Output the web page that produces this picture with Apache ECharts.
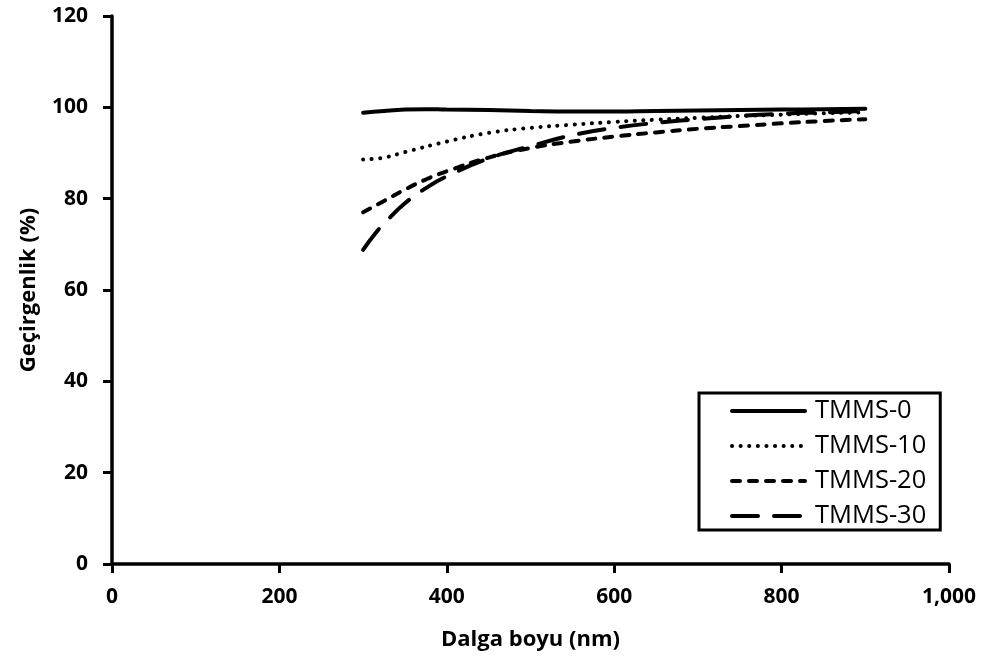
<!DOCTYPE html>
<html><head><meta charset="utf-8">
<script src="https://cdn.jsdelivr.net/npm/echarts@6/dist/echarts.min.js"></script>
<style>html,body{margin:0;padding:0;background:#fff}#c{width:983px;height:659px}</style>
</head><body><div id="c"></div>
<script>
const seriesNames = ['TMMS-0', 'TMMS-10', 'TMMS-20', 'TMMS-30'];
const tmms0 = [[300,98.8],[325,99.2],[350,99.5],[375,99.6],[400,99.5],[450,99.4],[500,99.2],[550,99.1],[600,99.1],[650,99.2],[700,99.3],[750,99.4],[800,99.5],[850,99.6],[900,99.7]];
const tmms10 = [[300,88.6],[325,89.0],[350,90.2],[400,92.5],[450,94.4],[500,95.5],[550,96.2],[600,96.8],[650,97.3],[700,97.7],[750,98.1],[800,98.4],[850,98.7],[900,98.9]];
const tmms20 = [[300,77.0],[325,79.5],[350,82.0],[375,84.2],[400,86.0],[450,89.0],[500,91.1],[550,92.5],[600,93.6],[650,94.5],[700,95.3],[750,95.9],[800,96.5],[850,97.0],[900,97.4]];
const tmms30 = [[300,68.8],[315,72.5],[330,75.5],[350,79.0],[375,82.3],[400,84.9],[450,88.8],[500,91.5],[550,93.9],[600,95.5],[650,96.6],[700,97.4],[750,98.1],[800,98.6],[850,98.9],[900,99.2]];
const dataSets = [tmms0, tmms10, tmms20, tmms30];
const dashTypes = ['solid', [0.1, 8.5], [8, 9], [26, 16]];
const FONT = 'Open Sans';

const chart = echarts.init(document.getElementById('c'), null, {renderer: 'canvas'});
chart.setOption({
  animation: false,
  backgroundColor: '#fff',
  grid: {left: 112, right: 34, top: 16, bottom: 95},
  legend: {
    orient: 'vertical', left: 699, top: 393,
    padding: [5, 14, 1, 31],
    borderColor: '#000', borderWidth: 3,
    itemWidth: 73, itemHeight: 14, itemGap: 9,
    itemStyle: {opacity: 0},
    lineStyle: {width: 4, cap: 'round'},
    textStyle: {fontFamily: FONT, fontSize: 25.5, lineHeight: 26, color: '#000', padding: [0, 0, 0, 5]},
    data: seriesNames
  },
  xAxis: {
    type: 'value', min: 0, max: 1000, interval: 200,
    name: 'Dalga boyu (nm)', nameLocation: 'middle', nameGap: 65,
    nameTextStyle: {fontFamily: FONT, fontSize: 22, fontWeight: 'bold', color: '#000'},
    axisLine: {show: true, lineStyle: {color: '#000', width: 3.5}},
    axisTick: {show: true, length: 9, lineStyle: {color: '#000', width: 3}},
    axisLabel: {fontFamily: FONT, fontSize: 21, fontWeight: 'bold', color: '#000', margin: 23,
      formatter: v => v.toLocaleString('en-US')},
    splitLine: {show: false}
  },
  yAxis: {
    type: 'value', min: 0, max: 120, interval: 20,
    name: 'Geçirgenlik (%)', nameLocation: 'middle', nameGap: 72, nameRotate: 90,
    nameTextStyle: {fontFamily: FONT, fontSize: 22, fontWeight: 'bold', color: '#000'},
    axisLine: {show: true, lineStyle: {color: '#000', width: 3.5}},
    axisTick: {show: true, length: 9, lineStyle: {color: '#000', width: 3}},
    axisLabel: {fontFamily: FONT, fontSize: 21, fontWeight: 'bold', color: '#000', margin: 24},
    splitLine: {show: false}
  },
  series: seriesNames.map((n, i) => ({
    name: n, type: 'line', smooth: 0.5, symbol: 'none',
    data: dataSets[i],
    lineStyle: {color: '#000', width: 4, type: dashTypes[i], cap: 'round'},
    itemStyle: {color: '#000'}
  }))
});
</script></body></html>
